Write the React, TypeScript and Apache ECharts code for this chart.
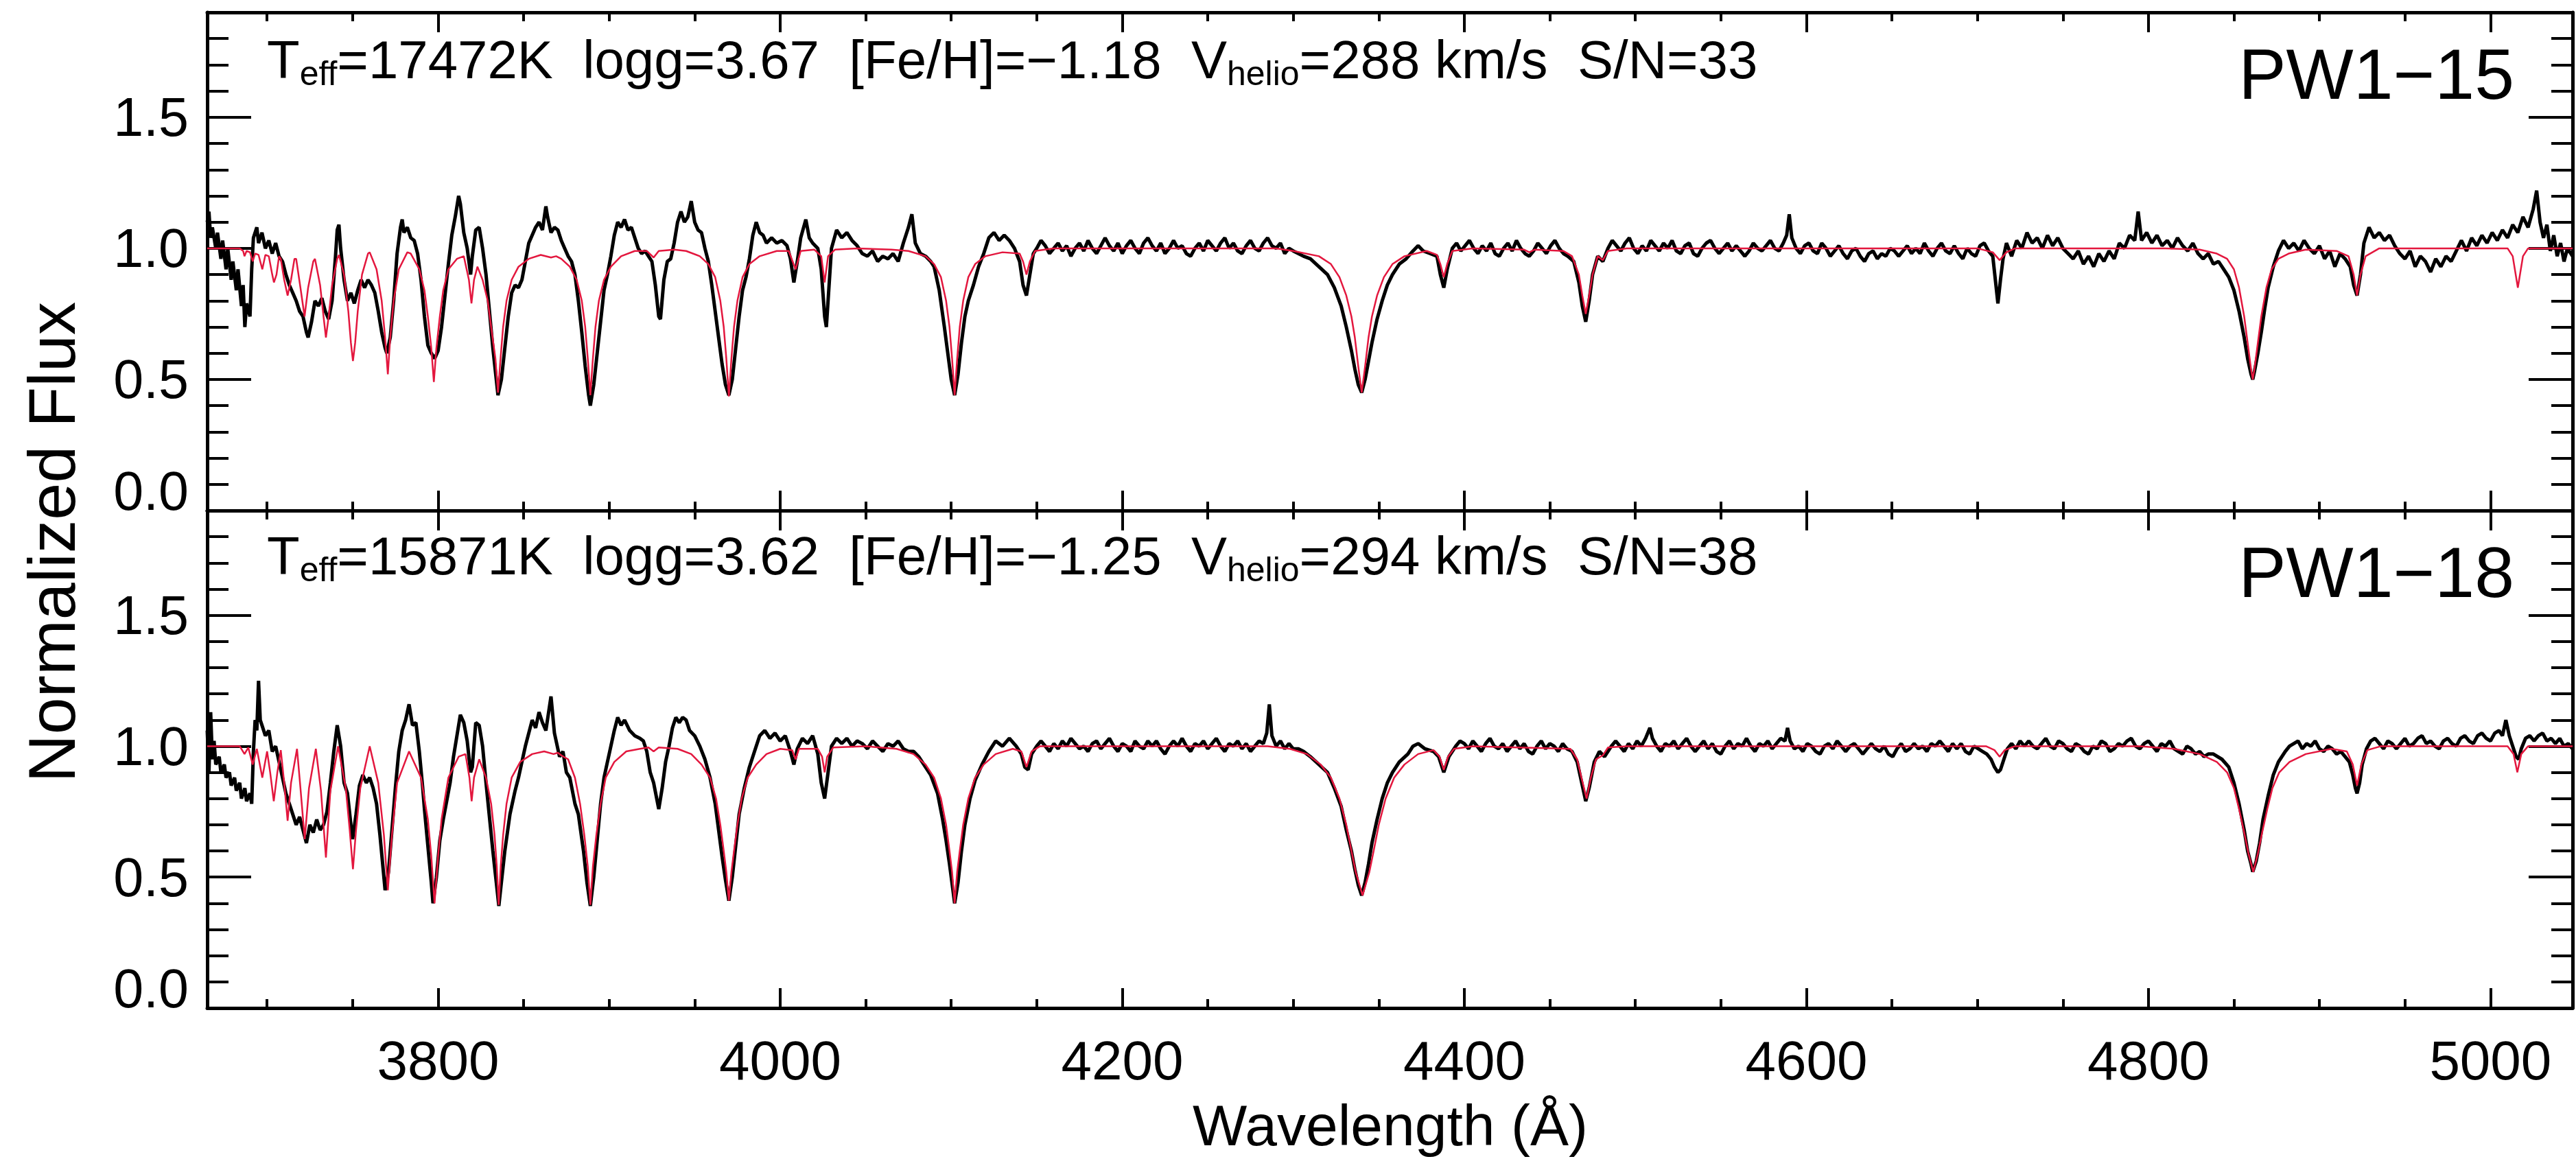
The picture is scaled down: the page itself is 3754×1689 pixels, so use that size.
import React, { useEffect, useRef } from 'react';
import * as echarts from 'echarts';

// ---------- axis values ----------
const xRange = [3665, 5048];
const yRange = [0, 1.9];
const xMajorTicks = [3800, 4000, 4200, 4400, 4600, 4800, 5000];
const xMinorTicks = [3700, 3750, 3850, 3900, 3950, 4050, 4100, 4150, 4250, 4300, 4350, 4450, 4500, 4550, 4650, 4700, 4750, 4850, 4900, 4950];
const yMajorTicks = [0, 0.5, 1.0, 1.5];
const yMinorTicks = [0.1, 0.2, 0.3, 0.4, 0.6, 0.7, 0.8, 0.9, 1.1, 1.2, 1.3, 1.4, 1.6, 1.7, 1.8];

// ---------- panel texts ----------
const starNames = ['PW1\u221215', 'PW1\u221218'];
const teffs = ['17472', '15871'];
const loggs = ['3.67', '3.62'];
const fehs = ['\u22121.18', '\u22121.25'];
const vhelios = ['288', '294'];
const snrs = ['33', '38'];

// ---------- PW1-15 observed spectrum (wavelength, normalized flux) ----------
const pw115Obs: number[][] = [
  [3665, 1.10], [3666, 1.14], [3667, 1.04], [3668, 1.08], [3670, 1.00], [3671, 1.06], [3673, 0.96], [3674, 1.03],
  [3676, 0.92], [3677, 1.00], [3679, 0.88], [3680, 0.95], [3682, 0.84], [3683, 0.92], [3685, 0.78], [3686, 0.86],
  [3687, 0.70], [3688, 0.79], [3690, 0.74], [3691, 0.92], [3692, 1.04], [3694, 1.08], [3695, 1.02], [3697, 1.06],
  [3699, 1.00], [3701, 1.03], [3703, 0.98], [3705, 1.02], [3707, 0.97], [3709, 0.95], [3711, 0.90], [3713, 0.86],
  [3715, 0.83], [3717, 0.80], [3719, 0.76], [3721, 0.74], [3723, 0.68], [3724, 0.66], [3726, 0.72], [3728, 0.80],
  [3730, 0.78], [3732, 0.81], [3734, 0.76], [3736, 0.73], [3738, 0.80], [3740, 0.97], [3741, 1.07], [3742, 1.09],
  [3743, 1.00], [3745, 0.88], [3747, 0.80], [3749, 0.83], [3751, 0.79], [3753, 0.84], [3755, 0.88], [3757, 0.85],
  [3759, 0.88], [3761, 0.86], [3763, 0.83], [3765, 0.76], [3767, 0.68], [3769, 0.62], [3770, 0.60], [3772, 0.66],
  [3774, 0.80], [3776, 0.98], [3778, 1.08], [3779, 1.11], [3780, 1.06], [3782, 1.08], [3784, 1.04], [3786, 1.03],
  [3788, 0.98], [3790, 0.88], [3792, 0.74], [3794, 0.63], [3796, 0.60], [3798, 0.58], [3800, 0.61], [3802, 0.70],
  [3804, 0.82], [3806, 0.94], [3808, 1.05], [3810, 1.12], [3812, 1.20], [3813, 1.17], [3815, 1.06], [3817, 1.00],
  [3819, 0.90], [3820, 0.97], [3822, 1.07], [3824, 1.08], [3826, 1.00], [3828, 0.90], [3830, 0.76], [3832, 0.62],
  [3834, 0.50], [3835, 0.44], [3837, 0.50], [3839, 0.62], [3841, 0.74], [3843, 0.83], [3845, 0.86], [3847, 0.85],
  [3849, 0.88], [3851, 0.95], [3853, 1.02], [3855, 1.05], [3857, 1.08], [3859, 1.10], [3861, 1.07], [3863, 1.16],
  [3864, 1.12], [3866, 1.06], [3868, 1.08], [3870, 1.07], [3872, 1.03], [3874, 1.00], [3876, 0.97], [3878, 0.95],
  [3880, 0.90], [3882, 0.80], [3884, 0.68], [3886, 0.55], [3888, 0.44], [3889, 0.40], [3891, 0.48], [3893, 0.60],
  [3895, 0.72], [3897, 0.84], [3899, 0.90], [3901, 0.97], [3903, 1.05], [3905, 1.10], [3907, 1.08], [3909, 1.11],
  [3911, 1.07], [3913, 1.08], [3915, 1.04], [3917, 1.00], [3919, 0.98], [3921, 0.99], [3923, 0.97], [3925, 0.95],
  [3927, 0.86], [3929, 0.74], [3930, 0.73], [3932, 0.88], [3934, 0.95], [3936, 0.96], [3938, 1.02], [3940, 1.10],
  [3942, 1.14], [3944, 1.10], [3946, 1.12], [3948, 1.18], [3950, 1.10], [3952, 1.07], [3954, 1.06], [3956, 1.00],
  [3958, 0.95], [3960, 0.86], [3962, 0.76], [3964, 0.66], [3966, 0.56], [3968, 0.48], [3970, 0.44], [3972, 0.50],
  [3974, 0.62], [3976, 0.74], [3978, 0.84], [3980, 0.89], [3982, 0.96], [3984, 1.05], [3986, 1.10], [3988, 1.06],
  [3990, 1.05], [3992, 1.02], [3995, 1.04], [3998, 1.02], [4001, 1.03], [4004, 1.01], [4006, 0.96], [4008, 0.87],
  [4010, 0.95], [4012, 1.04], [4015, 1.11], [4017, 1.04], [4019, 1.02], [4022, 1.00], [4024, 0.92], [4026, 0.74],
  [4027, 0.70], [4028, 0.80], [4030, 1.00], [4033, 1.07], [4036, 1.04], [4039, 1.06], [4042, 1.03], [4045, 1.01],
  [4048, 0.98], [4051, 0.97], [4054, 0.99], [4057, 0.95], [4060, 0.97], [4063, 0.96], [4066, 0.98], [4069, 0.95],
  [4072, 1.02], [4075, 1.08], [4077, 1.13], [4079, 1.02], [4082, 0.98], [4085, 0.97], [4088, 0.95], [4090, 0.93],
  [4093, 0.84], [4096, 0.70], [4098, 0.60], [4100, 0.50], [4102, 0.44], [4104, 0.52], [4106, 0.64], [4108, 0.74],
  [4110, 0.80], [4113, 0.86], [4116, 0.93], [4119, 0.98], [4122, 1.04], [4125, 1.06], [4128, 1.03], [4131, 1.05],
  [4134, 1.03], [4137, 1.00], [4140, 0.95], [4142, 0.86], [4144, 0.82], [4146, 0.90], [4148, 0.98], [4150, 1.00],
  [4152.5, 1.03], [4155, 1.01], [4157.5, 0.98], [4160, 1.00], [4162.5, 1.02], [4165, 0.99], [4167.5, 1.01], [4170, 0.97],
  [4172.5, 1.00], [4175, 1.02], [4177.5, 0.99], [4180, 1.03], [4182.5, 1.00], [4185, 0.98], [4187.5, 1.01], [4190, 1.04],
  [4192.5, 1.01], [4195, 0.99], [4197.5, 1.02], [4200, 0.98], [4202.5, 1.01], [4205, 1.03], [4207.5, 1.00], [4210, 0.98],
  [4212.5, 1.02], [4215, 1.04], [4217.5, 1.01], [4220, 0.99], [4222.5, 1.02], [4225, 0.98], [4227.5, 1.00], [4230, 1.03],
  [4232.5, 1.00], [4235, 1.01], [4237.5, 0.98], [4240, 0.97], [4242.5, 1.00], [4245, 1.02], [4247.5, 0.99], [4250, 1.03],
  [4252.5, 1.01], [4255, 0.99], [4257.5, 1.02], [4260, 1.04], [4262.5, 1.00], [4265, 1.02], [4267.5, 0.99], [4270, 0.98],
  [4272.5, 1.01], [4275, 1.03], [4277.5, 1.00], [4280, 0.99], [4282.5, 1.02], [4285, 1.04], [4287.5, 1.01], [4290, 1.00],
  [4292.5, 1.02], [4295, 0.98], [4297.5, 1.00], [4300, 0.99], [4303, 0.98], [4306, 0.97], [4310, 0.96],
  [4315, 0.93], [4320, 0.90], [4324, 0.85], [4328, 0.78], [4331, 0.70], [4334, 0.61], [4336, 0.54], [4338, 0.48],
  [4340, 0.45], [4342, 0.50], [4344, 0.57], [4346, 0.64], [4349, 0.73], [4352, 0.80], [4355, 0.86], [4358, 0.90],
  [4362, 0.94], [4366, 0.96], [4370, 0.99], [4373, 1.01], [4376, 0.99], [4380, 0.98], [4384, 0.97], [4386, 0.90], [4388, 0.85],
  [4390, 0.92], [4393, 1.00], [4395.5, 1.02], [4398, 0.99], [4400.5, 1.01], [4403, 1.03], [4405.5, 1.00], [4408, 0.98],
  [4410.5, 1.01], [4413, 0.99], [4415.5, 1.02], [4418, 0.98], [4420.5, 0.97], [4423, 1.00], [4425.5, 1.02], [4428, 0.99],
  [4430.5, 1.03], [4433, 1.00], [4435.5, 0.98], [4438, 0.97], [4440.5, 0.99], [4443, 1.02], [4445.5, 1.00], [4448, 0.98],
  [4450.5, 1.01], [4453, 1.03], [4455.5, 1.00], [4458, 0.98], [4460.5, 0.97],
  [4464, 0.95], [4467, 0.87], [4469, 0.78], [4471, 0.72], [4473, 0.80], [4475, 0.90], [4478, 0.97], [4481, 0.95],
  [4484, 1.00], [4486.5, 1.03], [4489, 1.01], [4491.5, 0.99], [4494, 1.02], [4496.5, 1.04], [4499, 1.00], [4501.5, 0.98],
  [4504, 1.01], [4506.5, 0.99], [4509, 1.03], [4511.5, 1.01], [4514, 0.99], [4516.5, 1.02], [4519, 1.00], [4521.5, 1.03],
  [4524, 0.99], [4526.5, 0.98], [4529, 1.01], [4531.5, 1.02], [4534, 0.98], [4536.5, 0.97], [4539, 1.00], [4541.5, 1.02],
  [4544, 1.03], [4546.5, 1.00], [4549, 0.98], [4551.5, 1.00], [4554, 1.02], [4556.5, 0.99], [4559, 1.01], [4561.5, 0.99],
  [4564, 0.97], [4566.5, 0.99], [4569, 1.02], [4571.5, 1.00], [4574, 0.99], [4576.5, 1.01], [4579, 1.03], [4581.5, 1.00],
  [4584, 0.99], [4586.5, 1.02], [4588.5, 1.05], [4590, 1.13], [4591.5, 1.04], [4594, 1.00], [4596.5, 0.98], [4599, 1.01],
  [4601.5, 1.02], [4604, 0.99], [4606.5, 0.98], [4609, 1.02], [4611.5, 1.00], [4614, 0.97], [4616.5, 0.99], [4619, 1.01],
  [4621.5, 0.98], [4624, 0.96], [4626.5, 0.99], [4629, 1.00], [4631.5, 0.97], [4634, 0.95], [4636.5, 0.98], [4639, 0.99],
  [4641.5, 0.96], [4644, 0.98], [4646.5, 0.97], [4649, 1.00], [4651.5, 0.99], [4654, 0.97], [4656.5, 0.99], [4659, 1.01],
  [4661.5, 0.98], [4664, 1.00], [4666.5, 0.98], [4669, 1.02], [4671.5, 0.99], [4674, 0.97], [4676.5, 1.00], [4679, 1.02],
  [4681.5, 0.99], [4684, 0.98], [4686.5, 1.01], [4689, 0.98], [4691.5, 0.96], [4694, 1.00], [4696.5, 0.98], [4699, 0.97],
  [4701.5, 1.01], [4704, 1.02], [4706.5, 0.99], [4709, 0.97], [4711, 0.85], [4712, 0.79], [4713.5, 0.88], [4715, 0.96],
  [4717, 1.02], [4720, 0.97], [4723, 1.03], [4726, 1.00], [4729, 1.06], [4732, 1.02], [4735, 1.04], [4738, 1.00],
  [4741, 1.05], [4744, 1.01], [4747, 1.04], [4750, 1.00], [4753, 0.98], [4756, 0.96], [4759, 0.99], [4762, 0.94],
  [4765, 0.97], [4768, 0.93], [4771, 0.98], [4774, 0.95], [4777, 0.99], [4780, 0.96], [4783, 1.02], [4786, 1.00],
  [4789, 1.05], [4792, 1.03], [4794, 1.14], [4796, 1.03], [4799, 1.06], [4802, 1.02], [4805, 1.05], [4808, 1.01],
  [4811, 1.03], [4814, 1.00], [4817, 1.04], [4820, 1.01], [4823, 0.99], [4826, 1.02], [4829, 0.98], [4832, 0.96],
  [4835, 0.98], [4838, 0.94], [4841, 0.95], [4844, 0.92], [4847, 0.89], [4850, 0.84], [4853, 0.76], [4856, 0.66],
  [4858, 0.58], [4860, 0.52], [4861, 0.50], [4862, 0.53], [4864, 0.60], [4866, 0.68], [4868, 0.77], [4870, 0.85],
  [4873, 0.93], [4876, 0.99], [4879, 1.03], [4882, 1.00], [4885, 1.02], [4888, 0.99], [4891, 1.03], [4894, 1.00],
  [4897, 0.98], [4900, 1.01], [4903, 0.96], [4906, 0.99], [4909, 0.93], [4912, 0.98], [4915, 0.96], [4918, 0.93],
  [4920, 0.86], [4922, 0.82], [4924, 0.90], [4926, 1.02], [4929, 1.08], [4932, 1.04], [4935, 1.06], [4938, 1.03],
  [4941, 1.05], [4944, 1.01], [4947, 0.98], [4950, 0.96], [4953, 0.99], [4956, 0.93], [4959, 0.97], [4962, 0.95],
  [4965, 0.91], [4968, 0.96], [4971, 0.93], [4974, 0.97], [4977, 0.95], [4980, 0.99], [4983, 1.03], [4986, 0.99],
  [4989, 1.04], [4992, 1.01], [4995, 1.05], [4998, 1.02], [5001, 1.06], [5004, 1.03], [5007, 1.07], [5010, 1.04],
  [5013, 1.09], [5016, 1.06], [5019, 1.12], [5022, 1.08], [5025, 1.15], [5027, 1.22], [5029, 1.10], [5031, 1.04],
  [5033, 1.09], [5035, 0.99], [5037, 1.05], [5039, 0.97], [5041, 1.02], [5043, 0.95], [5045, 1.00], [5048, 0.97],
];

// ---------- PW1-15 model spectrum ----------
const pw115Fit: number[][] = [
  [3665, 1.0], [3684, 1.0], [3686, 0.99], [3686.8, 0.97], [3688, 0.99], [3690, 0.985], [3691.6, 0.95], [3693, 0.98],
  [3695, 0.975], [3697.2, 0.92], [3699, 0.975], [3701, 0.97], [3703, 0.90], [3704, 0.87], [3705.5, 0.90], [3707, 0.97],
  [3708, 0.96], [3710, 0.88], [3712, 0.82], [3714, 0.88], [3716, 0.96], [3717, 0.96], [3719.5, 0.85], [3721.9, 0.74],
  [3724, 0.85], [3727, 0.95], [3728, 0.96], [3731, 0.86], [3733, 0.74], [3734.4, 0.66], [3736, 0.74], [3738, 0.86],
  [3741, 0.96], [3742, 0.975], [3745, 0.90], [3747.5, 0.76], [3749, 0.64], [3750.2, 0.57], [3751.5, 0.64], [3753, 0.76],
  [3755.5, 0.90], [3759, 0.98], [3760, 0.985], [3764, 0.92], [3767, 0.80], [3769, 0.66], [3770.6, 0.52], [3772, 0.66],
  [3774, 0.80], [3777, 0.92], [3782, 0.985], [3784, 0.98], [3789, 0.92], [3792, 0.84], [3794, 0.74], [3796, 0.62],
  [3797.5, 0.49], [3799, 0.62], [3801, 0.74], [3803, 0.84], [3806, 0.92], [3811, 0.96], [3815, 0.97], [3818, 0.88],
  [3819.5, 0.79], [3821, 0.88], [3823, 0.93], [3826, 0.88], [3829, 0.80], [3831, 0.70], [3833.5, 0.58], [3835, 0.45],
  [3836.5, 0.58], [3838, 0.70], [3840, 0.80], [3843, 0.88], [3847, 0.93], [3853, 0.96], [3860, 0.975], [3866, 0.965],
  [3869, 0.97], [3872, 0.96], [3877, 0.93], [3881, 0.88], [3884, 0.80], [3886, 0.70], [3887.5, 0.58], [3889, 0.44],
  [3890.5, 0.58], [3892, 0.70], [3894, 0.80], [3897, 0.88], [3901, 0.93], [3907, 0.97], [3915, 0.99], [3922, 0.99],
  [3926, 0.965], [3929, 0.99], [3938, 0.995], [3945, 0.99], [3953, 0.97], [3958, 0.94], [3962, 0.89], [3965, 0.80],
  [3967, 0.70], [3968.5, 0.58], [3970, 0.435], [3971.5, 0.58], [3973, 0.70], [3975, 0.80], [3978, 0.89], [3982, 0.94],
  [3988, 0.97], [3998, 0.99], [4005, 0.99], [4009, 0.92], [4012, 0.99], [4020, 0.995], [4024, 0.97], [4026, 0.87],
  [4028, 0.97], [4032, 0.995], [4045, 1.0], [4065, 0.995], [4075, 0.99], [4085, 0.97], [4090, 0.94], [4094, 0.89],
  [4097, 0.80], [4099, 0.70], [4100.5, 0.58], [4102, 0.44], [4103.5, 0.58], [4105, 0.70], [4107, 0.80], [4110, 0.89],
  [4114, 0.94], [4120, 0.97], [4130, 0.985], [4140, 0.98], [4142, 0.95], [4144, 0.90], [4146, 0.95], [4149, 0.99],
  [4160, 1.0], [4290, 1.0], [4300, 0.99], [4315, 0.97], [4322, 0.94], [4327, 0.89], [4331, 0.82], [4334, 0.74],
  [4336, 0.66], [4338, 0.55], [4340, 0.45], [4342, 0.55], [4344, 0.66], [4346, 0.74], [4349, 0.82], [4353, 0.89],
  [4358, 0.94], [4365, 0.97], [4378, 0.99], [4384, 0.975], [4386, 0.94], [4388, 0.89], [4390, 0.94], [4393, 0.99],
  [4405, 1.0], [4435, 0.995], [4438, 0.985], [4441, 0.995], [4458, 0.99], [4463, 0.97], [4467, 0.90], [4469, 0.82],
  [4471, 0.75], [4473, 0.82], [4475, 0.90], [4478, 0.97], [4481, 0.955], [4484, 0.99], [4495, 1.0], [4700, 1.0],
  [4709, 0.985], [4713, 0.955], [4717, 0.985], [4722, 1.0], [4810, 1.0], [4830, 0.995], [4840, 0.98], [4846, 0.96],
  [4850, 0.92], [4853, 0.85], [4856, 0.74], [4858, 0.64], [4860, 0.54], [4861, 0.50], [4862, 0.54], [4864, 0.64],
  [4866, 0.74], [4869, 0.85], [4872, 0.92], [4876, 0.96], [4882, 0.98], [4892, 0.995], [4910, 0.99], [4917, 0.97],
  [4920, 0.90], [4922, 0.82], [4924, 0.90], [4927, 0.97], [4935, 1.0], [5010, 1.0], [5013, 0.97], [5015, 0.89],
  [5016, 0.85], [5017, 0.89], [5019, 0.97], [5022, 1.0], [5048, 1.0],
];

// ---------- PW1-18 observed spectrum ----------
const pw118Obs: number[][] = [
  [3665, 1.06], [3666, 0.90], [3667, 1.13], [3668, 0.95], [3669, 1.02], [3670, 0.93], [3672, 0.96], [3673, 0.90],
  [3675, 0.93], [3676, 0.88], [3678, 0.90], [3679, 0.85], [3681, 0.88], [3682, 0.83], [3684, 0.86], [3685, 0.80],
  [3687, 0.84], [3688, 0.79], [3690, 0.82], [3691, 0.78], [3692, 0.98], [3693, 1.10], [3694, 1.06], [3695, 1.25],
  [3696, 1.10], [3697, 1.08], [3699, 1.04], [3701, 1.06], [3703, 0.98], [3705, 1.00], [3707, 0.94], [3709, 0.88],
  [3711, 0.82], [3713, 0.78], [3715, 0.74], [3717, 0.70], [3719, 0.73], [3721, 0.68], [3723, 0.63], [3725, 0.70],
  [3727, 0.67], [3729, 0.72], [3731, 0.68], [3733, 0.70], [3735, 0.75], [3737, 0.86], [3739, 0.98], [3741, 1.08],
  [3743, 1.00], [3745, 0.86], [3747, 0.82], [3749, 0.70], [3750, 0.645], [3752, 0.74], [3754, 0.85], [3756, 0.89],
  [3758, 0.86], [3760, 0.88], [3762, 0.84], [3764, 0.78], [3766, 0.66], [3768, 0.52], [3769, 0.45], [3771, 0.52],
  [3773, 0.68], [3775, 0.84], [3777, 0.98], [3779, 1.06], [3781, 1.10], [3783, 1.16], [3785, 1.08], [3787, 1.09],
  [3789, 0.98], [3791, 0.84], [3792, 0.76], [3794, 0.62], [3796, 0.48], [3797, 0.40], [3799, 0.50], [3801, 0.64],
  [3803, 0.72], [3805, 0.79], [3807, 0.86], [3809, 0.96], [3811, 1.04], [3813, 1.12], [3815, 1.09], [3817, 1.02],
  [3819, 0.90], [3820, 0.92], [3822, 1.09], [3824, 1.08], [3826, 1.00], [3828, 0.86], [3830, 0.73], [3832, 0.60],
  [3834, 0.48], [3835.5, 0.39], [3837, 0.48], [3839, 0.60], [3842, 0.74], [3845, 0.83], [3847, 0.88], [3849, 0.94],
  [3851, 1.00], [3853, 1.05], [3855, 1.10], [3857, 1.07], [3859, 1.13], [3861, 1.09], [3863, 1.06], [3866, 1.19],
  [3868, 1.05], [3871, 0.96], [3873, 0.98], [3875, 0.90], [3877, 0.88], [3880, 0.78], [3882, 0.74], [3885, 0.60],
  [3887, 0.48], [3889, 0.39], [3891, 0.50], [3893, 0.64], [3895, 0.78], [3897, 0.88], [3899, 0.94], [3901, 1.00],
  [3903, 1.06], [3905, 1.11], [3907, 1.08], [3909, 1.10], [3912, 1.06], [3915, 1.04], [3918, 1.03], [3920, 1.02],
  [3922, 0.98], [3924, 0.90], [3926, 0.86], [3929, 0.76], [3931, 0.84], [3933, 0.94], [3935, 1.00], [3937, 1.07],
  [3939, 1.11], [3941, 1.09], [3943, 1.11], [3945, 1.10], [3947, 1.06], [3950, 1.04], [3953, 1.00], [3956, 0.95],
  [3959, 0.88], [3962, 0.78], [3964, 0.68], [3966, 0.58], [3968, 0.49], [3970, 0.41], [3972, 0.50], [3974, 0.62],
  [3976, 0.74], [3979, 0.84], [3982, 0.92], [3985, 0.98], [3988, 1.04], [3991, 1.06], [3994, 1.03], [3997, 1.05],
  [4000, 1.02], [4003, 1.04], [4006, 0.98], [4008, 0.93], [4010, 0.99], [4013, 1.03], [4016, 1.01], [4019, 1.04],
  [4022, 0.97], [4024, 0.86], [4026, 0.80], [4028, 0.90], [4030, 1.00], [4033, 1.03], [4036, 1.01], [4039, 1.03],
  [4042, 1.00], [4045, 1.02], [4048, 1.01], [4051, 0.99], [4054, 1.02], [4057, 1.00], [4060, 0.98], [4063, 1.01],
  [4066, 1.00], [4069, 1.02], [4072, 0.99], [4075, 0.98], [4078, 0.98], [4081, 0.96],
  [4084, 0.93], [4088, 0.89], [4092, 0.82], [4095, 0.72], [4097, 0.64], [4099, 0.55],
  [4101, 0.45], [4102, 0.40], [4104, 0.48], [4106, 0.60], [4108, 0.70], [4111, 0.80], [4114, 0.87], [4118, 0.93],
  [4122, 0.98], [4126, 1.02], [4130, 1.00], [4134, 1.03], [4138, 1.00], [4141, 0.97], [4143, 0.92], [4145, 0.91],
  [4147, 0.97], [4150, 1.00], [4152.5, 1.02], [4155, 1.00], [4157.5, 0.98], [4160, 1.01], [4162.5, 0.99], [4165, 1.02],
  [4167.5, 1.00], [4170, 1.03], [4172.5, 1.01], [4175, 0.99], [4177.5, 1.00], [4180, 0.98], [4182.5, 1.01], [4185, 1.02],
  [4187.5, 0.99], [4190, 1.01], [4192.5, 1.03], [4195, 1.00], [4197.5, 0.98], [4200, 1.01], [4202.5, 1.00], [4205, 0.98],
  [4207.5, 1.02], [4210, 1.00], [4212.5, 0.99], [4215, 1.02], [4217.5, 1.00], [4220, 1.02], [4222.5, 0.99], [4225, 0.97],
  [4227.5, 1.00], [4230, 1.02], [4232.5, 1.00], [4235, 1.03], [4237.5, 1.00], [4240, 0.98], [4242.5, 1.01], [4245, 1.00],
  [4247.5, 1.02], [4250, 0.99], [4252.5, 1.01], [4255, 1.03], [4257.5, 1.00], [4260, 0.98], [4262.5, 1.01], [4265, 1.00],
  [4267.5, 1.02], [4270, 0.99], [4272.5, 1.01], [4275, 0.98], [4277.5, 1.00], [4280, 1.02], [4282.5, 1.01], [4284.5, 1.05],
  [4286, 1.16], [4287.5, 1.04], [4290, 1.00], [4292.5, 1.02], [4295, 0.99], [4297.5, 1.01], [4300, 0.99], [4303, 0.99],
  [4306, 0.98], [4310, 0.96], [4315, 0.93], [4320, 0.90], [4324, 0.84], [4328, 0.77],
  [4331, 0.68], [4334, 0.60], [4336, 0.53], [4338, 0.47], [4340, 0.43], [4342, 0.48], [4344, 0.55], [4346, 0.63],
  [4349, 0.72], [4352, 0.80], [4355, 0.86], [4358, 0.90], [4362, 0.94], [4367, 0.97], [4370, 1.00], [4373, 1.01],
  [4377, 0.99], [4382, 0.98], [4385, 0.96], [4388, 0.90], [4391, 0.96], [4395, 1.00], [4397.5, 1.02], [4400, 1.01],
  [4402.5, 0.99], [4405, 1.02], [4407.5, 1.00], [4410, 0.98], [4412.5, 1.01], [4415, 1.03], [4417.5, 1.00], [4420, 0.99],
  [4422.5, 1.01], [4425, 0.98], [4427.5, 1.00], [4430, 1.02], [4432.5, 0.99], [4435, 1.01], [4437.5, 0.98], [4440, 0.97],
  [4442.5, 1.00], [4445, 1.02], [4447.5, 0.99], [4450, 1.01], [4452.5, 1.00], [4455, 0.98], [4457.5, 1.01], [4460, 0.99],
  [4463, 0.98], [4466, 0.94], [4469, 0.85], [4471, 0.79], [4473, 0.84], [4476, 0.94], [4479, 0.98], [4482, 0.96],
  [4486, 1.00], [4488.5, 1.02], [4491, 1.00], [4493.5, 0.98], [4496, 1.01], [4498.5, 0.99], [4501, 1.02], [4503.5, 1.00],
  [4506, 1.03], [4508.5, 1.07], [4510, 1.03], [4512.5, 1.00], [4515, 0.98], [4517.5, 1.01], [4520, 1.00], [4522.5, 1.02],
  [4525, 0.99], [4527.5, 1.01], [4530, 1.03], [4532.5, 1.00], [4535, 0.98], [4537.5, 1.00], [4540, 1.02], [4542.5, 0.99],
  [4545, 1.01], [4547.5, 0.98], [4550, 0.97], [4552.5, 1.00], [4555, 1.02], [4557.5, 0.99], [4560, 1.01], [4562.5, 1.00],
  [4565, 1.03], [4567.5, 1.00], [4570, 0.98], [4572.5, 1.01], [4575, 1.00], [4577.5, 1.02], [4580, 0.99], [4582.5, 1.01],
  [4585, 1.03], [4587.5, 1.02], [4589, 1.07], [4590.5, 1.02], [4593, 0.99], [4595.5, 1.00], [4598, 0.98], [4600.5, 1.01],
  [4603, 1.00], [4605.5, 0.98], [4608, 0.97], [4610.5, 1.00], [4613, 1.01], [4615.5, 0.99], [4618, 1.02], [4620.5, 1.00],
  [4623, 0.98], [4625.5, 1.00], [4628, 1.01], [4630.5, 0.99], [4633, 0.97], [4635.5, 0.99], [4638, 1.01], [4640.5, 0.99],
  [4643, 0.98], [4645.5, 1.00], [4648, 0.97], [4650.5, 0.96], [4653, 0.99], [4655.5, 1.01], [4658, 0.98], [4660.5, 0.99],
  [4663, 1.01], [4665.5, 0.99], [4668, 1.00], [4670.5, 0.98], [4673, 1.01], [4675.5, 1.00], [4678, 1.02], [4680.5, 1.00],
  [4683, 0.98], [4685.5, 1.01], [4688, 0.99], [4690.5, 1.01], [4693, 0.98], [4695.5, 0.97], [4698, 1.00], [4700.5, 0.99],
  [4703, 0.98], [4705.5, 0.97], [4708, 0.95], [4710, 0.92], [4712, 0.90], [4713.5, 0.91], [4715, 0.94], [4717.5, 0.99],
  [4720, 1.01], [4722.5, 0.99], [4725, 1.02], [4727.5, 1.00], [4730, 1.02], [4732.5, 1.00], [4735, 0.99], [4737.5, 1.01],
  [4740, 1.03], [4742.5, 1.00], [4745, 0.99], [4747.5, 1.02], [4750, 1.01], [4752.5, 0.99], [4755, 0.98], [4757.5, 1.01],
  [4760, 1.00], [4762.5, 0.98], [4765, 0.97], [4767.5, 1.00], [4770, 0.99], [4772.5, 1.02], [4775, 1.01], [4777.5, 0.98],
  [4780, 0.99], [4782.5, 1.01], [4785, 1.00], [4787.5, 1.02], [4790, 1.03], [4792.5, 1.00], [4795, 0.99], [4797.5, 1.01],
  [4800, 1.02], [4802.5, 1.00], [4805, 0.98], [4807.5, 1.01], [4810, 1.00], [4812.5, 1.02], [4815, 0.99], [4817.5, 0.98],
  [4820, 0.97], [4822.5, 1.00], [4825, 0.99], [4827.5, 0.97], [4830, 0.98], [4832.5, 0.96], [4835, 0.97], [4838, 0.97],
  [4843, 0.95], [4847, 0.92], [4850, 0.86], [4853, 0.78], [4856, 0.68], [4858, 0.60], [4860, 0.55], [4861, 0.52],
  [4863, 0.56], [4865, 0.63], [4867, 0.72], [4870, 0.81], [4873, 0.89], [4876, 0.94], [4880, 0.98], [4882.5, 1.00],
  [4885, 1.01], [4887.5, 1.02], [4890, 0.99], [4892.5, 1.01], [4895, 1.00], [4897.5, 1.02], [4900, 0.99], [4902.5, 0.98],
  [4905, 1.00], [4907.5, 0.99], [4910, 0.97], [4912.5, 0.98], [4915, 0.96], [4917.5, 0.94], [4919.5, 0.89], [4921, 0.84],
  [4922, 0.82], [4923.5, 0.86], [4925, 0.93], [4927.5, 0.99], [4930, 1.02], [4932.5, 1.03], [4935, 1.01], [4937.5, 0.99],
  [4940, 1.02], [4942.5, 1.01], [4945, 0.99], [4947.5, 1.01], [4950, 1.03], [4952.5, 1.00], [4955, 1.01], [4957.5, 1.03],
  [4960, 1.04], [4962.5, 1.01], [4965, 1.02], [4967.5, 1.00], [4970, 0.99], [4972.5, 1.02], [4975, 1.03], [4977.5, 1.01],
  [4980, 1.00], [4982.5, 1.03], [4985, 1.04], [4987.5, 1.02], [4990, 1.01], [4992.5, 1.04], [4995, 1.05], [4997.5, 1.03],
  [5000, 1.02], [5002.5, 1.05], [5005, 1.06], [5007, 1.04], [5009, 1.10], [5011, 1.04], [5013, 1.00], [5015, 0.96],
  [5016.5, 0.95], [5018, 0.99], [5020.5, 1.03], [5023, 1.04], [5025.5, 1.02], [5028, 1.04], [5030.5, 1.05], [5033, 1.02],
  [5035.5, 1.03], [5038, 1.01], [5040.5, 1.03], [5043, 1.00], [5045.5, 1.01], [5048, 0.99],
];

// ---------- PW1-18 model spectrum ----------
const pw118Fit: number[][] = [
  [3665, 1.0], [3684, 1.0], [3686.8, 0.97], [3689, 0.995], [3691.6, 0.93], [3694, 0.99], [3697.2, 0.88], [3700, 0.98],
  [3701.8, 0.90], [3703.9, 0.79], [3706, 0.90], [3708, 0.985], [3710, 0.86], [3712, 0.715], [3714, 0.86], [3717.5, 0.99],
  [3719.5, 0.84], [3722, 0.645], [3724.5, 0.84], [3728.5, 0.99], [3731.5, 0.83], [3734.4, 0.575], [3737, 0.83], [3741.5, 1.0],
  [3746, 0.84], [3748.3, 0.68], [3750.2, 0.53], [3752, 0.68], [3754.5, 0.84], [3760, 1.0], [3765, 0.86], [3768.3, 0.66],
  [3770.6, 0.45], [3773, 0.66], [3776, 0.86], [3783, 0.98], [3790, 0.88], [3794, 0.72], [3796, 0.58], [3797.9, 0.40],
  [3800, 0.58], [3802, 0.72], [3806, 0.88], [3812, 0.96], [3816, 0.97], [3818.3, 0.88], [3819.6, 0.79], [3821, 0.88],
  [3824, 0.95], [3828, 0.88], [3831, 0.78], [3833, 0.66], [3834.3, 0.54], [3835.4, 0.394], [3836.6, 0.54], [3838, 0.66],
  [3840, 0.78], [3843, 0.88], [3848, 0.94], [3855, 0.97], [3862, 0.98], [3867.5, 0.97], [3870, 0.975], [3872, 0.965],
  [3876, 0.95], [3880, 0.88], [3883, 0.78], [3885.5, 0.66], [3887.5, 0.54], [3889, 0.394], [3890.5, 0.54], [3892.5, 0.66],
  [3895, 0.78], [3898, 0.88], [3903, 0.94], [3910, 0.98], [3918, 0.99], [3923, 0.995], [3926, 0.98], [3929, 0.995],
  [3940, 0.99], [3948, 0.97], [3954, 0.93], [3959, 0.88], [3962.5, 0.80], [3965, 0.70], [3967, 0.60], [3968.5, 0.52],
  [3970, 0.41], [3971.5, 0.52], [3973, 0.60], [3975, 0.70], [3977.5, 0.80], [3981, 0.88], [3986, 0.93], [3992, 0.97],
  [4000, 0.99], [4007, 0.985], [4009, 0.95], [4011, 0.99], [4022, 0.99], [4024.5, 0.96], [4026, 0.90], [4027.5, 0.96],
  [4031, 0.995], [4050, 1.0], [4068, 0.99], [4078, 0.97], [4085, 0.93], [4090, 0.88], [4094, 0.80], [4097, 0.70],
  [4099, 0.60], [4100.5, 0.52], [4102, 0.40], [4103.5, 0.52], [4105, 0.60], [4107, 0.70], [4110, 0.80], [4114, 0.88],
  [4119, 0.93], [4126, 0.97], [4136, 0.99], [4141, 0.98], [4144, 0.92], [4147, 0.98], [4152, 1.0], [4285, 1.0],
  [4298, 0.99], [4308, 0.97], [4316, 0.93], [4322, 0.88], [4327, 0.80], [4331, 0.70], [4334, 0.60], [4336.5, 0.52],
  [4340.5, 0.43], [4344.5, 0.52], [4347, 0.60], [4350, 0.70], [4354, 0.80], [4359, 0.88], [4365, 0.93], [4373, 0.97],
  [4382, 0.985], [4385.5, 0.96], [4388, 0.91], [4390.5, 0.96], [4394, 0.99], [4405, 1.0], [4462, 0.99], [4466, 0.95],
  [4468.5, 0.88], [4471.5, 0.80], [4474, 0.88], [4477, 0.95], [4481, 0.965], [4484, 0.995], [4495, 1.0], [4705, 1.0],
  [4710, 0.985], [4713, 0.96], [4716, 0.985], [4722, 1.0], [4795, 1.0], [4815, 0.99], [4830, 0.97], [4840, 0.94],
  [4846, 0.90], [4850, 0.84], [4853, 0.76], [4856, 0.67], [4858.5, 0.59], [4861.3, 0.52], [4864, 0.59], [4866.5, 0.67],
  [4869.5, 0.76], [4872.5, 0.84], [4876.5, 0.90], [4882.5, 0.94], [4892, 0.97], [4907, 0.99], [4916, 0.98], [4919.5, 0.93],
  [4922, 0.85], [4924.5, 0.93], [4928, 0.985], [4936, 1.0], [5010, 1.0], [5013.5, 0.97], [5015.7, 0.90], [5018, 0.97],
  [5022, 1.0], [5048, 1.0],
];

const FONT = "'Liberation Sans', Arial, Helvetica, sans-serif";
const RED = '#e3173e';

function xAxisDef(gridIndex: number, position: string, ticks: number[], len: number, showLine: boolean, showLabel: boolean) {
  return {
    type: 'value',
    gridIndex,
    position,
    min: xRange[0],
    max: xRange[1],
    axisLine: { show: showLine, onZero: false, lineStyle: { color: '#000', width: 5 } },
    axisTick: { show: true, inside: true, length: len, customValues: ticks, lineStyle: { color: '#000', width: 4 } },
    axisLabel: {
      show: showLabel,
      customValues: xMajorTicks,
      formatter: (v: number) => String(v),
      fontSize: 80,
      fontFamily: FONT,
      color: '#000',
      margin: 36,
    },
    splitLine: { show: false },
    minorTick: { show: false },
  };
}

function yAxisDef(gridIndex: number, position: string, ticks: number[], len: number, showLine: boolean, showLabel: boolean) {
  return {
    type: 'value',
    gridIndex,
    position,
    min: yRange[0],
    max: yRange[1],
    axisLine: { show: showLine, onZero: false, lineStyle: { color: '#000', width: 5 } },
    axisTick: { show: true, inside: true, length: len, customValues: ticks, lineStyle: { color: '#000', width: 4 } },
    axisLabel: {
      show: showLabel,
      customValues: yMajorTicks,
      formatter: (v: number) => (Math.abs(v) < 1e-9 ? '{z|0.0}' : v.toFixed(1)),
      fontSize: 79,
      fontFamily: FONT,
      color: '#000',
      margin: 27,
      rich: {
        z: { fontSize: 79, fontFamily: FONT, color: '#000', padding: [0, 0, 58, 0] },
      },
    },
    splitLine: { show: false },
    minorTick: { show: false },
  };
}

function annotation(i: number, cy: number) {
  return {
    type: 'text',
    x: 389,
    y: cy,
    silent: true,
    style: {
      text: `T{s|eff}=${teffs[i]}K  logg=${loggs[i]}  [Fe/H]=${fehs[i]}  V{s|helio}=${vhelios[i]} km/s  S/N=${snrs[i]}`,
      fontSize: 78,
      fontFamily: FONT,
      fill: '#000',
      lineHeight: 90,
      align: 'left',
      verticalAlign: 'middle',
      rich: {
        s: { fontSize: 50, fontFamily: FONT, fill: '#000', lineHeight: 44, verticalAlign: 'bottom' },
      },
    },
  };
}

function starLabel(i: number, cy: number) {
  return {
    type: 'text',
    x: 3664,
    y: cy,
    silent: true,
    style: {
      text: starNames[i],
      fontSize: 104,
      fontFamily: FONT,
      fill: '#000',
      align: 'right',
      verticalAlign: 'middle',
    },
  };
}

export default function App() {
  const ref = useRef<HTMLDivElement>(null);
  useEffect(() => {
    if (!ref.current) return;
    const chart = echarts.init(ref.current, null, { renderer: 'svg' });
    const option: any = {
      animation: false,
      backgroundColor: '#fff',
      grid: [
        { left: 302, top: 18, width: 3447, height: 726, containLabel: false },
        { left: 302, top: 744, width: 3447, height: 725, containLabel: false },
      ],
      xAxis: [
        xAxisDef(0, 'bottom', xMajorTicks, 29, true, false),
        xAxisDef(0, 'bottom', xMinorTicks, 13, false, false),
        xAxisDef(0, 'top', xMajorTicks, 29, true, false),
        xAxisDef(0, 'top', xMinorTicks, 13, false, false),
        xAxisDef(1, 'bottom', xMajorTicks, 29, true, true),
        xAxisDef(1, 'bottom', xMinorTicks, 13, false, false),
        xAxisDef(1, 'top', xMajorTicks, 29, true, false),
        xAxisDef(1, 'top', xMinorTicks, 13, false, false),
      ],
      yAxis: [
        yAxisDef(0, 'left', yMajorTicks, 64, true, true),
        yAxisDef(0, 'left', yMinorTicks, 31, false, false),
        yAxisDef(0, 'right', yMajorTicks, 64, true, false),
        yAxisDef(0, 'right', yMinorTicks, 31, false, false),
        yAxisDef(1, 'left', yMajorTicks, 64, true, true),
        yAxisDef(1, 'left', yMinorTicks, 31, false, false),
        yAxisDef(1, 'right', yMajorTicks, 64, true, false),
        yAxisDef(1, 'right', yMinorTicks, 31, false, false),
      ],
      series: [
        { type: 'line', xAxisIndex: 0, yAxisIndex: 0, data: pw115Obs, showSymbol: false, symbol: 'none', lineStyle: { color: '#000', width: 5 }, z: 2 },
        { type: 'line', xAxisIndex: 0, yAxisIndex: 0, data: pw115Fit, showSymbol: false, symbol: 'none', lineStyle: { color: RED, width: 2.5 }, z: 3 },
        { type: 'line', xAxisIndex: 4, yAxisIndex: 4, data: pw118Obs, showSymbol: false, symbol: 'none', lineStyle: { color: '#000', width: 5 }, z: 2 },
        { type: 'line', xAxisIndex: 4, yAxisIndex: 4, data: pw118Fit, showSymbol: false, symbol: 'none', lineStyle: { color: RED, width: 2.5 }, z: 3 },
      ],
      graphic: [
        annotation(0, 87),
        annotation(1, 810),
        starLabel(0, 108),
        starLabel(1, 834),
        {
          type: 'text',
          x: 75,
          y: 790,
          rotation: Math.PI / 2,
          silent: true,
          style: { text: 'Normalized Flux', fontSize: 97, fontFamily: FONT, fill: '#000', align: 'center', verticalAlign: 'middle' },
        },
        {
          type: 'text',
          x: 2026,
          y: 1640,
          silent: true,
          style: { text: 'Wavelength (\u00c5)', fontSize: 84, fontFamily: FONT, fill: '#000', align: 'center', verticalAlign: 'middle' },
        },
      ],
    };
    chart.setOption(option);
    return () => chart.dispose();
  }, []);
  return <div ref={ref} style={{ position: 'absolute', left: 0, top: 0, width: 3754, height: 1689, background: '#fff' }} />;
}
